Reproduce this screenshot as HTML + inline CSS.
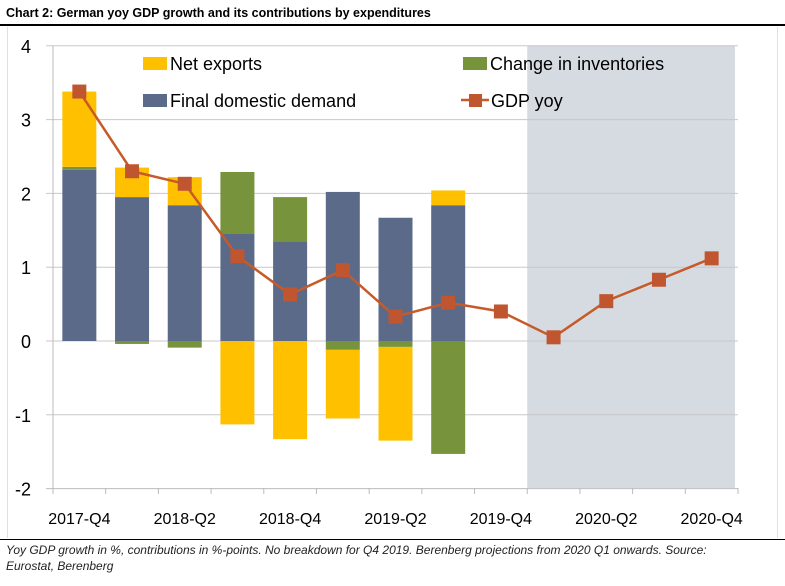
<!DOCTYPE html>
<html><head><meta charset="utf-8"><style>
body{margin:0;background:#fff;font-family:"Liberation Sans",sans-serif}
svg{display:block}
</style></head><body>
<svg width="785" height="586" viewBox="0 0 785 586" xmlns="http://www.w3.org/2000/svg">
<text x="6" y="17" font-size="12.5" font-weight="bold" fill="#000">Chart 2: German yoy GDP growth and its contributions by expenditures</text>
<line x1="0" y1="25" x2="785" y2="25" stroke="#000" stroke-width="2"/>
<line x1="7.5" y1="27" x2="7.5" y2="538" stroke="#e0e0e0"/>
<line x1="777.5" y1="27" x2="777.5" y2="538" stroke="#e0e0e0"/>
<line x1="0" y1="539.5" x2="785" y2="539.5" stroke="#000" stroke-width="1"/>
<text x="6" y="554" font-size="12" font-style="italic" fill="#222">Yoy GDP growth in %, contributions in %-points. No breakdown for Q4 2019. Berenberg projections from 2020 Q1 onwards. Source:</text>
<text x="6" y="570" font-size="12" font-style="italic" fill="#222">Eurostat, Berenberg</text>
<g id="plot"></g>
<g>
<rect x="143" y="57" width="24" height="13" fill="#FFC000"/>
<text x="170" y="70" font-size="18" fill="#000">Net exports</text>
<rect x="463" y="57" width="24" height="13" fill="#77933C"/>
<text x="490" y="70" font-size="18" fill="#000">Change in inventories</text>
<rect x="143" y="94" width="24" height="13" fill="#5A6A88"/>
<text x="170" y="107" font-size="18" fill="#000">Final domestic demand</text>
<line x1="461" y1="100" x2="489" y2="100" stroke="#C65A28" stroke-width="2.5"/>
<rect x="469" y="94" width="13" height="13" fill="#C0562F"/>
<text x="491" y="107" font-size="18" fill="#000">GDP yoy</text>
</g>
</svg>
<script>
const categories=["2017-Q4","2018-Q1","2018-Q2","2018-Q3","2018-Q4","2019-Q1","2019-Q2","2019-Q3","2019-Q4","2020-Q1","2020-Q2","2020-Q3","2020-Q4"];
const fdd=[2.32,1.95,1.84,1.45,1.35,2.02,1.67,1.84];
const inventories=[0.04,-0.04,-0.09,0.84,0.60,-0.12,-0.08,-1.53];
const netExports=[1.02,0.40,0.38,-1.13,-1.33,-0.93,-1.27,0.20];
const gdp=[3.38,2.30,2.13,1.15,0.63,0.96,0.33,0.52,0.40,0.05,0.54,0.83,1.12];
const yTicks=[-2,-1,0,1,2,3,4];
const xLabels=["2017-Q4","2018-Q2","2018-Q4","2019-Q2","2019-Q4","2020-Q2","2020-Q4"];
const shadeFrom=9;
const NS="http://www.w3.org/2000/svg";
const g=document.getElementById('plot');
const X0=53,X1=738,Y0=488,Y1=46;
const bw=(X1-X0)/categories.length;
function y(v){return 341-v*73.8;}
function xc(i){return X0+bw*(i+0.5);}
function mk(t,a){const e=document.createElementNS(NS,t);for(const k in a)e.setAttribute(k,a[k]);g.appendChild(e);return e;}
let e=mk('rect',{x:X0+bw*shadeFrom,y:Y1,width:X1-3-(X0+bw*shadeFrom),height:Y0-Y1,fill:'#D6DBE2'});


yTicks.forEach(t=>{
 const l=mk('line',{x1:X0-7,x2:X1,y1:y(t),y2:y(t),stroke:t===-2?'#bbb':'#c8c8c8'});
 
 
 const tx=mk('text',{x:X0-22,y:y(t)+7,'font-size':18,'text-anchor':'end',fill:'#000'});
 tx.textContent=t;
 
 
});
e=mk('line',{x1:X0,x2:X0,y1:Y1,y2:Y0+6,stroke:'#bbb'});


for(let i=0;i<=categories.length;i++){
 const t=mk('line',{x1:X0+bw*i,x2:X0+bw*i,y1:Y0,y2:Y0+6,stroke:'#bbb'});
 
 
}
xLabels.forEach(lb=>{
 const i=categories.indexOf(lb);
 const t=mk('text',{x:xc(i),y:Y0+36,'font-size':16,'text-anchor':'middle',fill:'#000'});
 t.textContent=lb;
 
 
});
const BW=34;
function seg(i,a,b,col,name){
 const r=mk('rect',{x:xc(i)-BW/2,y:y(Math.max(a,b)),width:BW,height:Math.abs(y(a)-y(b)),fill:col});
 
 
}
fdd.forEach((f,i)=>{
 let pos=0,neg=0;
 const parts=[[f,'#5A6A88','bar-final-domestic-demand'],[inventories[i],'#77933C','bar-inventories'],[netExports[i],'#FFC000','bar-net-exports']];
 parts.forEach(([v,c,n])=>{
  if(v>=0){seg(i,pos,pos+v,c,n);pos+=v;}else{seg(i,neg,neg+v,c,n);neg+=v;}
 });
});
const pl=mk('polyline',{points:gdp.map((v,i)=>xc(i)+','+y(v)).join(' '),fill:'none',stroke:'#C65A28','stroke-width':2.5});


gdp.forEach((v,i)=>{
 const r=mk('rect',{x:xc(i)-7,y:y(v)-7,width:14,height:14,fill:'#C0562F'});
 
 
});
</script>
</body></html>
